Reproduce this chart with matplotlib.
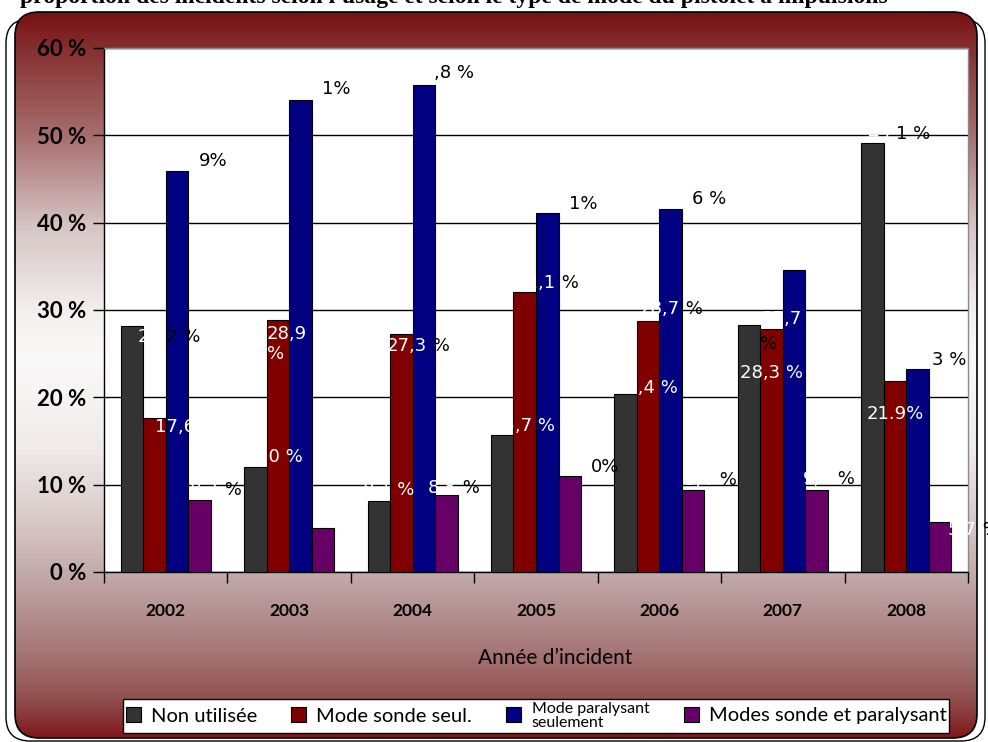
import numpy as np
import matplotlib
matplotlib.use("Agg")
import matplotlib.pyplot as plt
from matplotlib.patches import FancyBboxPatch, Patch
from matplotlib.colors import LinearSegmentedColormap

# ---------------- data ----------------
years = ["2002", "2003", "2004", "2005", "2006", "2007", "2008"]
series_names = ["Non utilisée", "Mode sonde seul.", "Mode paralysant\nseulement",
                "Modes sonde et paralysant"]
non_utilisee = [28.2, 12.0, 8.1, 15.7, 20.4, 28.3, 49.1]
sonde_seul = [17.6, 28.9, 27.3, 32.1, 28.7, 27.8, 21.9]
paralysant_seul = [45.9, 54.1, 55.8, 41.1, 41.6, 34.6, 23.3]
sonde_et_paralysant = [8.2, 5.0, 8.8, 11.0, 9.4, 9.4, 5.7]
values = [non_utilisee, sonde_seul, paralysant_seul, sonde_et_paralysant]

# data label texts as shown (white part first, then black part)
labels_grey = ["28,2 %", "12,0 %", "8,1 %", "15,7 %", "20,4 %", "28,3 %", "49,1 %"]
labels_red = ["17,6 %", "28,9\n%", "27,3 %", "32,1 %", "28,7 %", "27,7\n%", "21.9%"]
labels_blue = ["45,9%", "54,1%", "55,8 %", "41,1%", "41,6 %", "34,6 %", "23,3 %"]
labels_purple = ["8,2 %", "5,0 %", "8,8 %", "11,0%", "9,4 %", "9,4 %", "5,7 %"]
label_texts = [labels_grey, labels_red, labels_blue, labels_purple]
# number of leading characters drawn in white (rest drawn black)
white_len_grey = [3, 6, 5, 6, 6, 6, 3]
white_len_red = [6, 6, 5, 5, 5, 5, 5]
white_len_blue = [3, 3, 2, 3, 3, 6, 3]
white_len_purple = [4, 5, 4, 3, 4, 4, 4]
white_lens = [white_len_grey, white_len_red, white_len_blue, white_len_purple]

# label offsets (pixels) relative to the top-left corner of each bar (layout)
off_grey = [(17, -2), (-4, 19), (-5, 20), (1, 18), (1, 15), (2, -39), (6, 18)]
off_red = [(12, 0), (0, -5), (-3, -3), (2, 18), (3, 21), (1, 19), (-17, -24)]
off_blue = [(4, 19), (4, 20), (-2, 21), (4, 18), (4, 19), (0, 17), (-3, 18)]
off_purple = [(2, 19), (0, 19), (-7, 16), (4, 18), (3, 19), (-2, 20), (19, 1)]
offsets = [off_grey, off_red, off_blue, off_purple]

colors = ["#333333", "#800000", "#000080", "#660066"]
yticks = [0, 10, 20, 30, 40, 50, 60]
ytick_labels = ["0 %", "10 %", "20 %", "30 %", "40 %", "50 %", "60 %"]
xlabel = "Année d’incident"
title = "proportion des incidents selon l'usage et selon le type de mode du pistolet à impulsions"

# ---------------- figure ----------------
W, H = 988, 742
fig = plt.figure(figsize=(W / 100, H / 100), dpi=100, facecolor="white")

bg = fig.add_axes([0, 0, 1, 1], zorder=-10)
bg.set_xlim(0, W)
bg.set_ylim(H, 0)
bg.axis("off")

outer = FancyBboxPatch((6, 19), 979, 722, boxstyle="round,pad=0,rounding_size=24",
                       facecolor="white", edgecolor="black", lw=1.0)
bg.add_patch(outer)

inner = FancyBboxPatch((15, 12), 962, 726, boxstyle="round,pad=0,rounding_size=24",
                       facecolor="none", edgecolor="black", lw=1.2, zorder=3)
bg.add_patch(inner)

stops = [(0.0, (120, 18, 20)), (0.05, (134, 48, 48)), (0.172, (168, 112, 112)),
         (0.293, (214, 196, 196)), (0.413, (244, 239, 239)), (0.479, (250, 249, 249)),
         (0.603, (240, 234, 234)), (0.713, (214, 196, 196)), (0.771, (196, 172, 172)),
         (0.879, (166, 120, 120)), (0.948, (146, 80, 80)), (1.0, (126, 26, 28))]
cmap = LinearSegmentedColormap.from_list(
    "bg", [(p, tuple(c / 255 for c in col)) for p, col in stops])
grad = np.linspace(0, 1, 600).reshape(-1, 1)
im = bg.imshow(grad, extent=[15, 977, 738, 12], aspect="auto", cmap=cmap, zorder=2)
im.set_clip_path(inner)

bg.text(20, 3, title, fontsize=17, fontweight="bold", family="Liberation Serif",
        ha="left", va="baseline", color="black")

# ---------------- main axes ----------------
ax = fig.add_axes([104 / W, (H - 572) / H, 864 / W, 524 / H])
ax.set_facecolor("white")
n = len(years)
x = np.arange(n)
w = 0.1823
for i, vals in enumerate(values):
    ax.bar(x + (i - 1.5) * w, vals, width=w, color=colors[i], edgecolor="black",
           linewidth=0.8, zorder=3)

ax.set_xlim(-0.5, n - 0.5)
ax.set_ylim(0, 60)
ax.set_yticks(yticks)
ax.set_yticklabels(ytick_labels, fontsize=16, fontweight="bold", family="Lato")
ax.yaxis.grid(True, color="black", lw=1.0)
ax.set_axisbelow(True)
ax.tick_params(axis="y", length=8, width=1, pad=5, color="black")

ax.set_xticks(np.arange(n + 1) - 0.5)
ax.set_xticklabels([])
ax.set_xticks(x, minor=True)
ax.set_xticklabels(years, minor=True, fontsize=12.5, fontweight="bold", family="Lato")
ax.tick_params(axis="x", which="major", length=8, width=1, direction="out")
ax.tick_params(axis="x", which="minor", length=0, pad=22)

ax.set_xlabel(xlabel, fontsize=15, family="Lato")
ax.xaxis.set_label_coords((555 - 104) / 864, (572 - 658) / 524)
ax.xaxis.label.set_va("center")

for side in ["left", "bottom"]:
    ax.spines[side].set_color("black")
    ax.spines[side].set_linewidth(1.0)
for side in ["top", "right"]:
    ax.spines[side].set_color("#8a8a8a")
    ax.spines[side].set_linewidth(1.0)

# data labels: white part, then black part chained after it
lab_kw = dict(ha="left", va="top", fontsize=13, family="DejaVu Sans",
              annotation_clip=False, zorder=6)
for i, vals in enumerate(values):
    for j in range(n):
        xl = x[j] + (i - 2) * w
        full = label_texts[i][j]
        k = white_lens[i][j]
        dx, dy = offsets[i][j]
        prefix, suffix = full[:k], full[k:]
        newline = False
        while prefix.endswith(" ") or prefix.endswith("\n"):
            if prefix.endswith("\n"):
                newline = True
            else:
                suffix = " " + suffix
            prefix = prefix[:-1]
        t = ax.annotate(prefix, (xl, vals[j]), xytext=(dx, dy), textcoords="offset pixels",
                        color="white", **lab_kw)
        if suffix:
            if newline:
                ax.annotate(suffix, (0, 0), xycoords=t, xytext=(-1, -7),
                            textcoords="offset pixels", color="black", **lab_kw)
            else:
                ax.annotate(suffix, (1, 1), xycoords=t, xytext=(0, 0),
                            textcoords="offset pixels", color="black", **lab_kw)

# legend
handles = [Patch(facecolor=c, edgecolor="black", lw=0.8) for c in colors]
leg = fig.legend(handles, series_names, ncol=4, loc="center",
                 bbox_to_anchor=(536 / W, 1 - 716 / H), frameon=True, fancybox=False,
                 edgecolor="black", framealpha=1, borderpad=0.15, handlelength=0.75,
                 handleheight=0.75, handletextpad=0.5, columnspacing=1.7,
                 prop={"family": "Lato", "size": 14.5})
leg.get_frame().set_linewidth(1.0)
leg.get_texts()[2].set_fontsize(11.5)
leg.get_texts()[2].set_linespacing(1.0)

fig.savefig("out.png", dpi=100, facecolor="white")
